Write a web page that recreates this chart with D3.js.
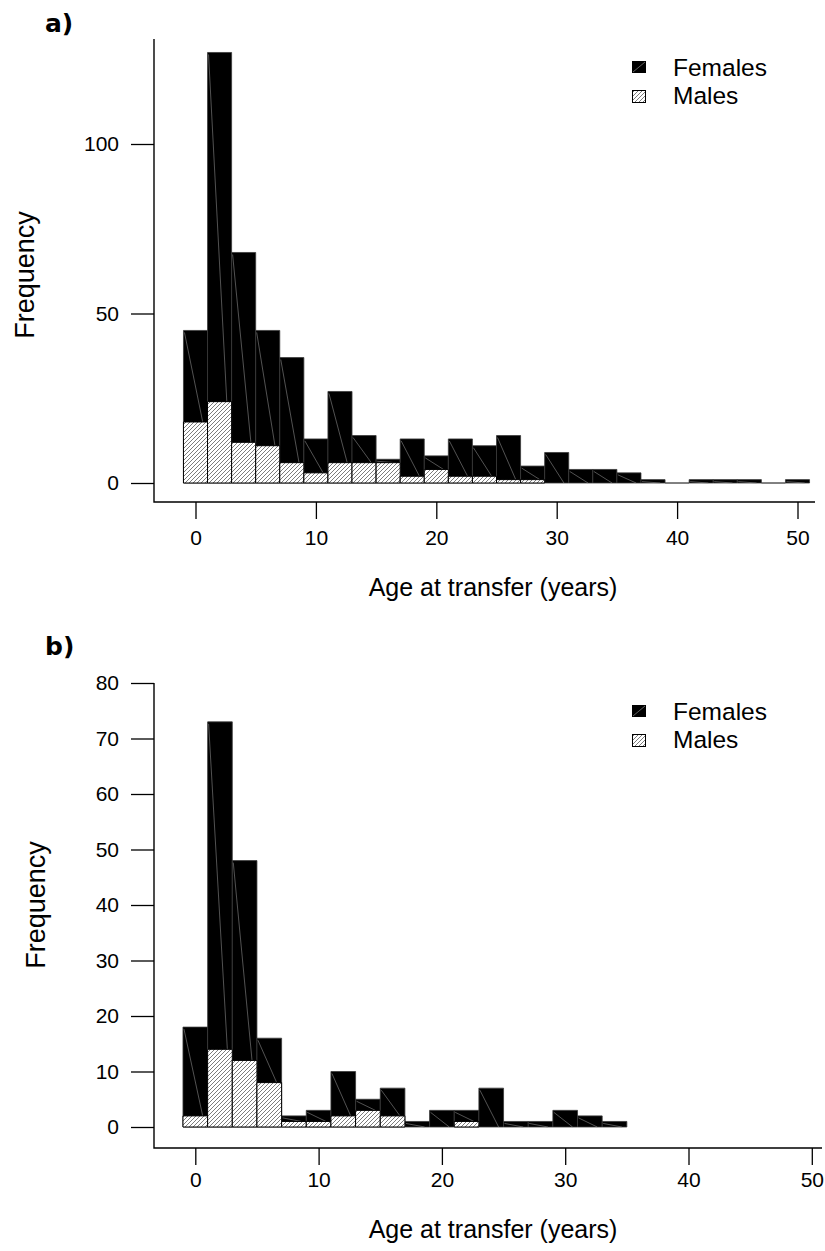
<!DOCTYPE html>
<html><head><meta charset="utf-8">
<script src="https://cdn.jsdelivr.net/npm/d3@7"></script>
<style>
body{margin:0;background:#fff}
svg{display:block}
</style>
</head><body>
<script>
// ---------- Data (panel a) ----------
const agesA    = [0,2,4,6,8,10,12,14,16,18,20,22,24,26,28,30,32,34,36,38,40,42,44,46,48,50];
const femalesA = [45,127,68,45,37,13,27,14,7,13,8,13,11,14,5,9,4,4,3,1,0,1,1,1,0,1];
const malesA   = [18,24,12,11,6,3,6,6,6,2,4,2,2,1,1,0,0,0,0,0,0,0,0,0,0,0];
const yTicksA  = [0,50,100];
// ---------- Data (panel b) ----------
const agesB    = [0,2,4,6,8,10,12,14,16,18,20,22,24,26,28,30,32,34];
const femalesB = [18,73,48,16,2,3,10,5,7,1,3,3,7,1,1,3,2,1];
const malesB   = [2,14,12,8,1,1,2,3,2,0,0,1,0,0,0,0,0,0];
const yTicksB  = [0,10,20,30,40,50,60,70,80];
const xTicks   = [0,10,20,30,40,50];
const legendLabels = ["Females","Males"];
const panelLabels  = ["a)","b)"];
const xTitle = "Age at transfer (years)";
const yTitle = "Frequency";

const FONT = '"Liberation Sans", Arial, sans-serif';
const W = 825, H = 1251;
const svg = d3.select("body").append("svg").attr("width", W).attr("height", H);

const defs = svg.append("defs");
const pat = defs.append("pattern").attr("id","hatch")
  .attr("patternUnits","userSpaceOnUse").attr("width",4).attr("height",4);
pat.append("rect").attr("width",4).attr("height",4).attr("fill","#fff");
pat.append("path").attr("d","M-1,1L1,-1M0,4L4,0M3,5L5,3")
  .attr("stroke","#444").attr("stroke-width",0.7);

function drawPanel(o){
  const g = svg.append("g");
  const x = d3.scaleLinear().domain([0,50]).range(o.xr);
  const y = d3.scaleLinear().domain([0,o.yRef]).range(o.yr);
  const half = 1; // half bin width (bins of 2 years)
  const rows = o.ages.map((a,i)=>({a, f:o.fem[i], m:o.mal[i]}));
  const barPath = (a,v) => {
    const x0 = x(a-half), x1 = x(a+half), y0 = y(0), y1 = y(v);
    return `M${x0},${y0}V${y1}H${x1}V${y0}Z`;
  };
  // Female (black) bars
  g.append("g").selectAll("path").data(rows).join("path")
    .attr("d", d => barPath(d.a, d.f))
    .attr("fill","#000").attr("stroke","#3a3a3a").attr("stroke-width",0.8);
  // faint diagonal pattern line inside black bars
  g.append("g").selectAll("line").data(rows.filter(d => d.f > d.m + 0.5)).join("line")
    .attr("x1", d => x(d.a-half)+1).attr("y1", d => y(d.f)+2)
    .attr("x2", d => x(d.a-half) + 0.8*(x(d.a+half)-x(d.a-half))).attr("y2", d => y(d.m))
    .attr("stroke","#8a8a8a").attr("stroke-width",0.6);
  // Male (hatched) bars
  g.append("g").selectAll("path").data(rows.filter(d => d.m > 0)).join("path")
    .attr("d", d => barPath(d.a, d.m))
    .attr("fill","url(#hatch)").attr("stroke","#000").attr("stroke-width",1);

  // Y axis
  const ya = g.append("g").attr("transform",`translate(${o.ax},0)`)
    .call(d3.axisLeft(y).tickValues(o.yTicks).tickSize(23).tickPadding(12).tickSizeOuter(0));
  ya.select(".domain").remove();
  ya.attr("font-family", FONT).attr("font-size", 21);
  ya.selectAll("line").attr("stroke","#000").attr("stroke-width",1.3);
  // X axis
  const xa = g.append("g").attr("transform",`translate(0,${o.axisY})`)
    .call(d3.axisBottom(x).tickValues(xTicks).tickSize(17).tickPadding(o.xPad).tickSizeOuter(0));
  xa.select(".domain").remove();
  xa.attr("font-family", FONT).attr("font-size", 21);
  xa.selectAll("line").attr("stroke","#000").attr("stroke-width",1.3);
  // L-shaped axis frame
  g.append("path").attr("d", `M${o.ax},${y(o.yTop)}V${o.axisY}H${o.xEnd}`)
    .attr("fill","none").attr("stroke","#000").attr("stroke-width",1.4);

  // Titles
  g.append("text").attr("x", o.xTitleX).attr("y", o.xTitleY).attr("text-anchor","middle")
    .attr("font-family", FONT).attr("font-size", 25).text(xTitle);
  g.append("text").attr("transform", `translate(${o.yTitleX},${o.yTitleY}) rotate(-90)`)
    .attr("text-anchor","middle").attr("font-family", FONT).attr("font-size", 27).text(yTitle);
  g.append("text").attr("x", 45).attr("y", o.labelY)
    .attr("font-family", '"DejaVu Sans", sans-serif').attr("font-weight", 900)
    .attr("font-size", 25).text(o.label);

  // Legend
  const lg = g.append("g").attr("transform", `translate(632,${o.legY})`);
  lg.append("rect").attr("x",0).attr("y",0).attr("width",14).attr("height",12).attr("fill","#000");
  lg.append("line").attr("x1",1).attr("y1",11).attr("x2",13).attr("y2",1)
    .attr("stroke","#8a8a8a").attr("stroke-width",0.7);
  lg.append("rect").attr("x",0.5).attr("y",29.5).attr("width",13).attr("height",12)
    .attr("fill","url(#hatch)").attr("stroke","#000").attr("stroke-width",1);
  lg.selectAll("text").data(legendLabels).join("text")
    .attr("x", 41).attr("y", (d,i) => 15 + i*28)
    .attr("font-family", FONT).attr("font-size", 24.5).text(d => d);
}

drawPanel({
  ages: agesA, fem: femalesA, mal: malesA, yTicks: yTicksA,
  xr: [195.5, 797.5], yRef: 100, yr: [483, 144], yTop: 131,
  ax: 154, axisY: 502, xEnd: 815, xPad: 11,
  xTitleX: 493, xTitleY: 596, yTitleX: 34, yTitleY: 275,
  label: panelLabels[0], labelY: 32, legY: 61
});
drawPanel({
  ages: agesB, fem: femalesB, mal: malesB, yTicks: yTicksB,
  xr: [195.3, 811.8], yRef: 80, yr: [1127, 683], yTop: 80,
  ax: 154, axisY: 1148, xEnd: 822, xPad: 7,
  xTitleX: 493, xTitleY: 1238, yTitleX: 45, yTitleY: 905,
  label: panelLabels[1], labelY: 655, legY: 705
});
</script>
</body></html>
